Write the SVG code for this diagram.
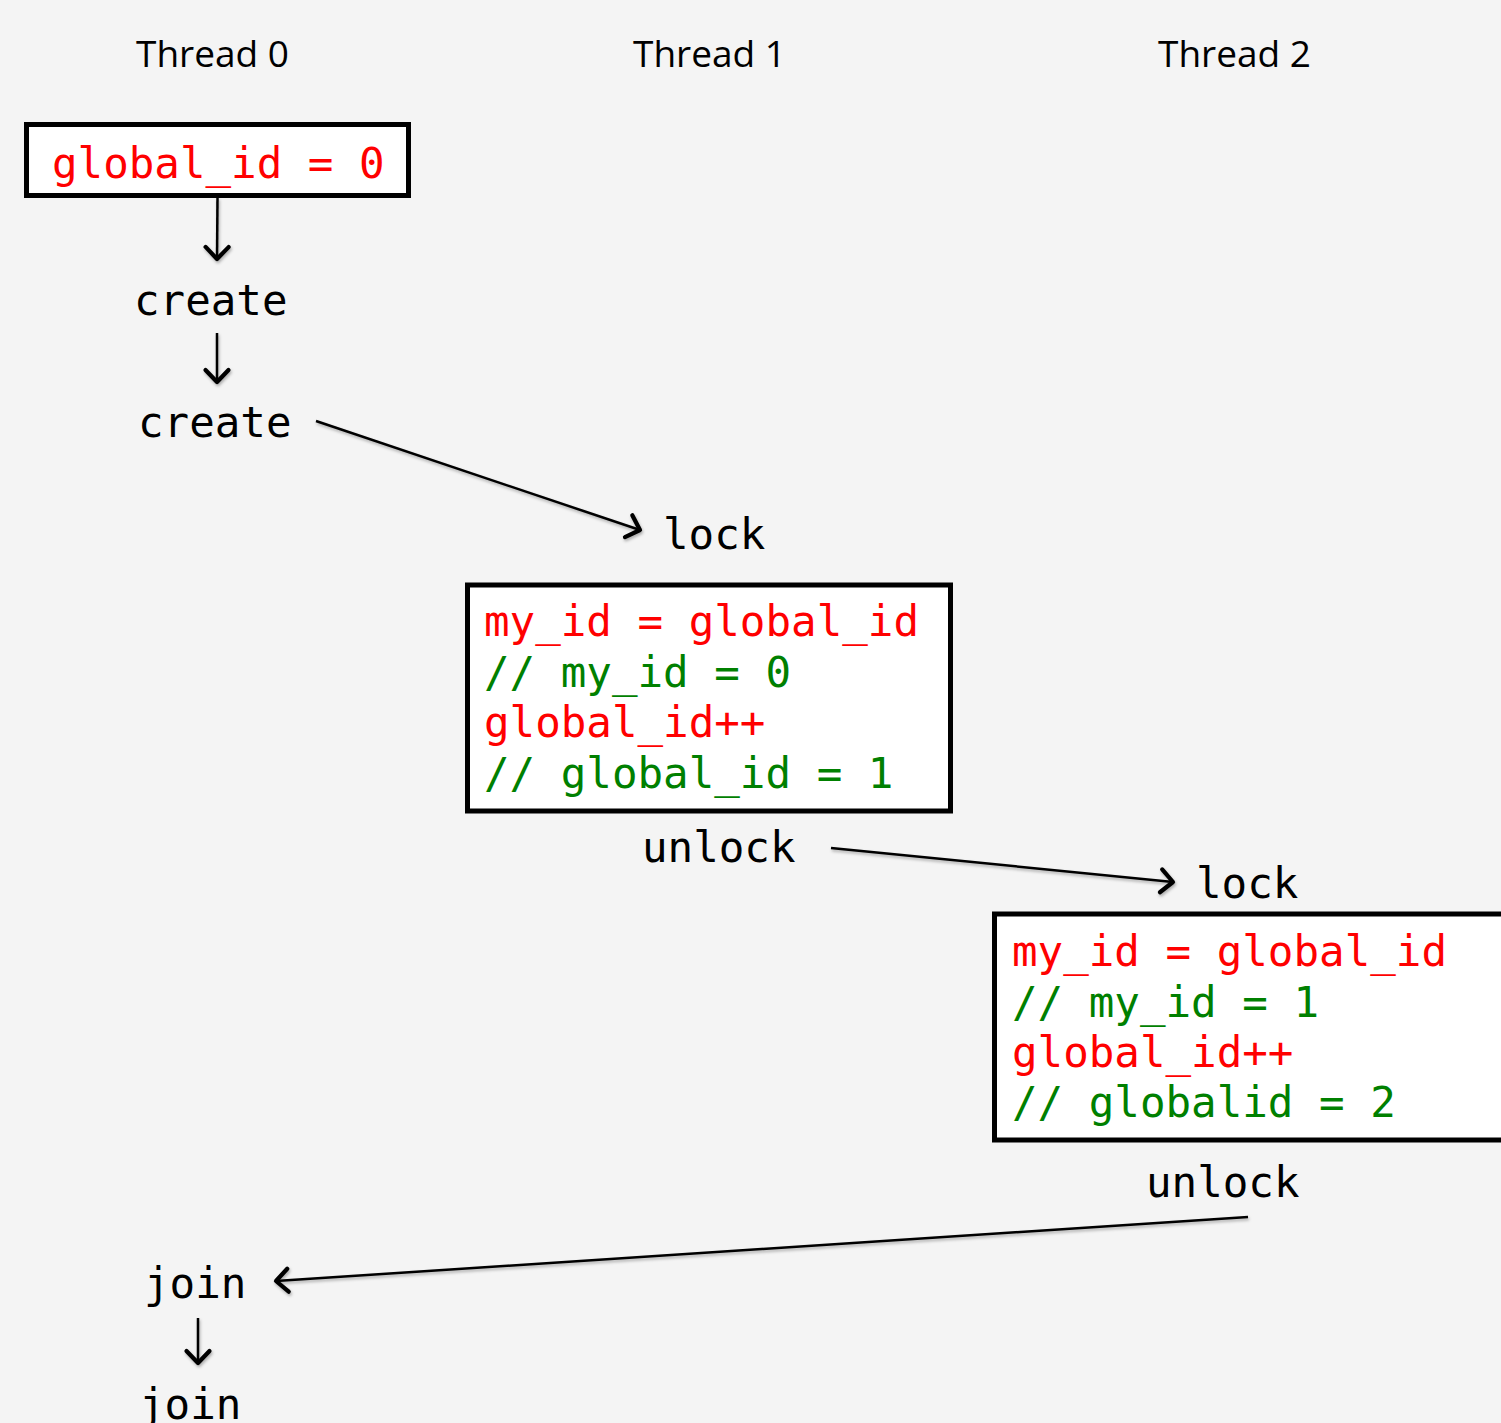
<svg xmlns="http://www.w3.org/2000/svg" width="1501" height="1423" viewBox="0 0 1501 1423">
  <style>
    .hdr { font-family: "Open Sans", "Liberation Sans", sans-serif; font-size: 37px; fill: #000; }
    .code { font-family: "DejaVu Sans Mono", "Liberation Mono", monospace; font-size: 42.5px; }
    .op { fill: #000; }
    .red { fill: #FF0000; }
    .green { fill: #008000; }
    .box { fill: #FFFFFF; stroke: #000; stroke-width: 5; }
    .edge { fill: none; stroke: #000; stroke-width: 2.5; marker-end: url(#chev); }
  </style>
  <defs>
    <marker id="chev" markerUnits="userSpaceOnUse" markerWidth="34" markerHeight="34" viewBox="-18 -17 22 34" refX="0" refY="0" orient="auto">
      <path d="M -12 -11.5 L 0 0 L -12 11.5" fill="none" stroke="#000" stroke-width="4.2" stroke-linecap="round" stroke-linejoin="round"/>
    </marker>
    <filter id="shade" x="-10%" y="-50%" width="120%" height="200%">
      <feDropShadow dx="1" dy="2" stdDeviation="1.5" flood-color="#000" flood-opacity="0.3"/>
    </filter>
  </defs>

  <rect width="1501" height="1423" fill="#F4F4F4"/>

  <!-- column headings -->
  <g id="headings">
    <text class="hdr" x="136" y="67">Thread 0</text>
    <text class="hdr" x="633" y="67">Thread 1</text>
    <text class="hdr" x="1158" y="67">Thread 2</text>
  </g>

  <!-- Thread 0 -->
  <g id="init">
    <rect class="box" x="26.5" y="124.5" width="382" height="71"/>
    <text class="code red" x="52" y="178">global_id = 0</text>
  </g>
  <g id="create1"><text class="code op" x="134" y="315">create</text></g>
  <g id="create2"><text class="code op" x="138" y="437">create</text></g>
  <g id="join1"><text class="code op" x="144" y="1298">join</text></g>
  <g id="join2"><text class="code op" x="139" y="1419">join</text></g>

  <!-- Thread 1 -->
  <g id="lock1"><text class="code op" x="663" y="549">lock</text></g>
  <g id="critical1">
    <rect class="box" x="467.5" y="585" width="483" height="226"/>
    <text class="code red" x="484" y="636">my_id = global_id</text>
    <text class="code green" x="484" y="687">// my_id = 0</text>
    <text class="code red" x="484" y="737">global_id++</text>
    <text class="code green" x="484" y="788">// global_id = 1</text>
  </g>
  <g id="unlock1"><text class="code op" x="642" y="862">unlock</text></g>

  <!-- Thread 2 -->
  <g id="lock2"><text class="code op" x="1196" y="898">lock</text></g>
  <g id="critical2">
    <rect class="box" x="994.5" y="914" width="520" height="226"/>
    <text class="code red" x="1012" y="966">my_id = global_id</text>
    <text class="code green" x="1012" y="1017">// my_id = 1</text>
    <text class="code red" x="1012" y="1067">global_id++</text>
    <text class="code green" x="1012" y="1117">// globalid = 2</text>
  </g>
  <g id="unlock2"><text class="code op" x="1146" y="1197">unlock</text></g>

  <!-- connectors -->
  <g id="connectors" filter="url(#shade)">
    <line class="edge" x1="217.5" y1="198" x2="217" y2="259" stroke-width="1.8"/>
    <line class="edge" x1="217" y1="333" x2="217" y2="382"/>
    <line class="edge" x1="316" y1="421" x2="640" y2="530"/>
    <line class="edge" x1="831" y1="848" x2="1173" y2="882"/>
    <line class="edge" x1="1248" y1="1217" x2="276" y2="1281"/>
    <line class="edge" x1="198" y1="1318" x2="198" y2="1363"/>
  </g>
</svg>
